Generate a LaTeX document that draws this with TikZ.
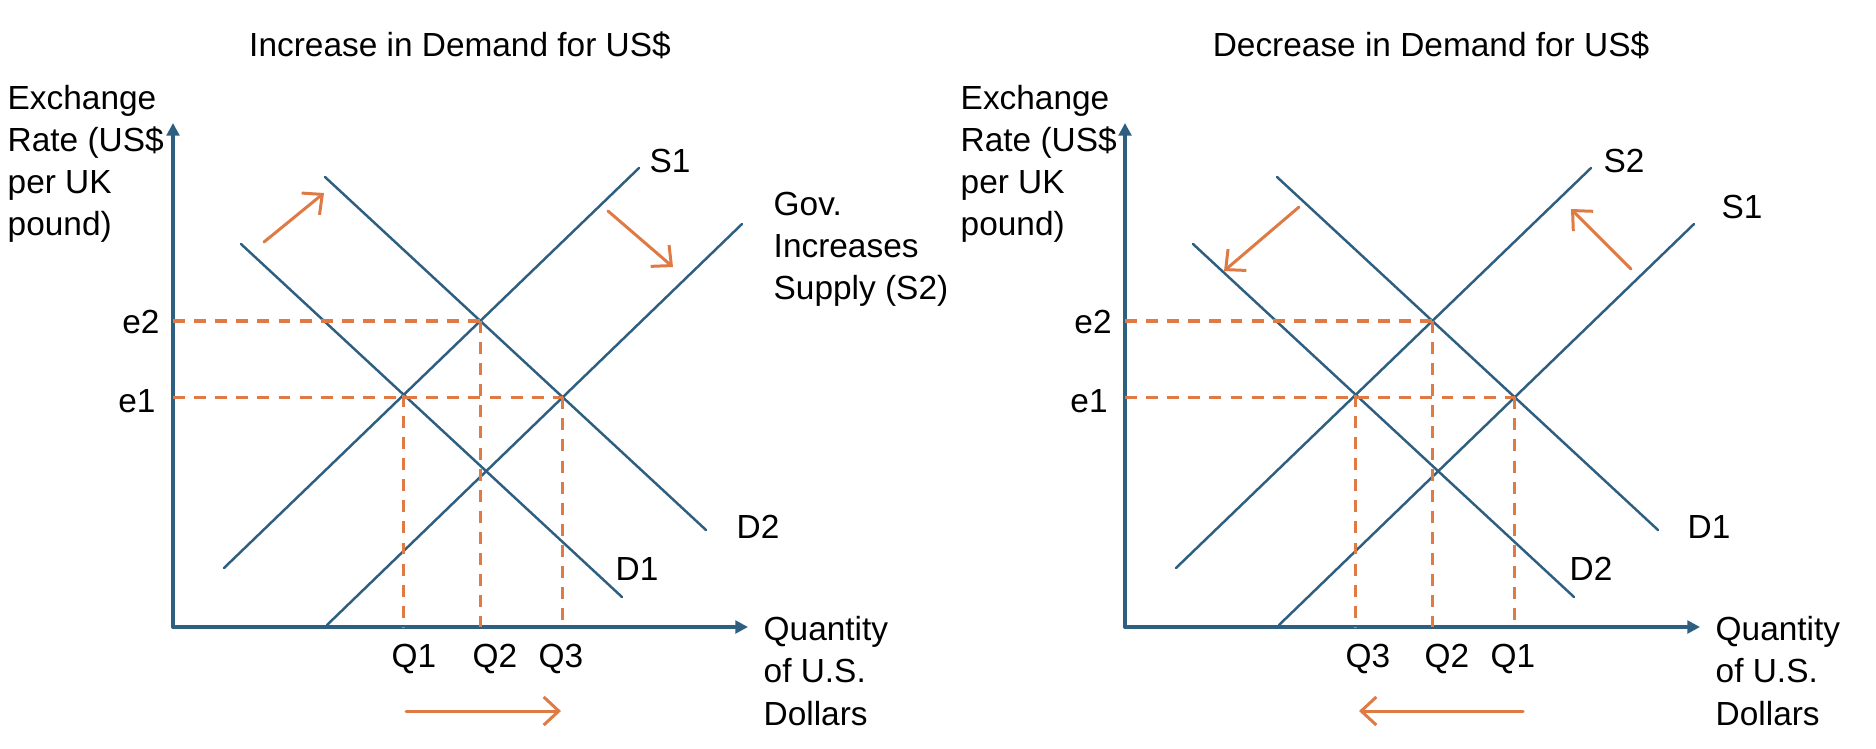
\documentclass[tikz,border=0pt]{standalone}
\usepackage{fontspec}
\setmainfont{Liberation Sans}
\usetikzlibrary{arrows.meta,positioning}

\definecolor{axisblue}{HTML}{2E5F80}
\definecolor{shiftorange}{HTML}{E07A45}

\begin{document}
\begin{tikzpicture}[
		x=0.01cm,
		y=-0.01cm,
		line cap=round,
		line join=round,
		font=\fontsize{9.5}{12}\selectfont,
		axis/.style={
			draw=axisblue,
			line width=1pt,
			-{Triangle[length=3.6pt,width=3.6pt]}
		},
		curve/.style={
			draw=axisblue,
			line width=0.7pt
		},
		guide/.style={
			draw=shiftorange,
			line width=0.8pt,
			line cap=butt,
			dash pattern=on 3.4pt off 2.6pt
		},
		shiftarrow/.style={
			draw=shiftorange,
			line width=0.85pt,
			-{Straight Barb[length=4.3pt,width=8pt]}
		},
		lbl/.style={inner sep=0pt},
		axlbl/.style={inner sep=0pt, anchor=west, align=left}
		]
		
		% background
		\useasboundingbox (0,0) rectangle (1876,748);
		\fill[white] (0,0) rectangle (1876,748);
		
		% ---------------- left panel ----------------
		\node[lbl] (titleL) at (460,45) {Increase in Demand for US\$};
		
		% axes
		\coordinate (oL)  at (173,627);
		\coordinate (ytL) at (173,123);
		\coordinate (xtL) at (748,627);
		\draw[axis] (oL) -- (ytL);
		\draw[axis] (oL) -- (xtL);
		
		% demand and supply ends
		\coordinate (d1aL) at (241,244);
		\coordinate (d1bL) at (622,597);
		\coordinate (d2aL) at (325,177);
		\coordinate (d2bL) at (706,530);
		\coordinate (s1aL) at (224,568);
		\coordinate (s1bL) at (639,168);
		\coordinate (s2aL) at (327,625);
		\coordinate (s2bL) at (742,224);
		
		\draw[curve] (d1aL) -- (d1bL);
		\draw[curve] (d2aL) -- (d2bL);
		\draw[curve] (s1aL) -- (s1bL);
		\draw[curve] (s2aL) -- (s2bL);
		
		% equilibria
		\coordinate (qaL) at (intersection of d1aL--d1bL and s1aL--s1bL);
		\coordinate (qbL) at (intersection of d2aL--d2bL and s1aL--s1bL);
		\coordinate (qcL) at (intersection of d2aL--d2bL and s2aL--s2bL);
		
		% guides
		\draw[guide, line width=0.95pt] (qbL -| oL) -- (qbL);
		\draw[guide, line width=0.95pt] (qcL -| oL) -- (qcL);
		\draw[guide] (qaL) -- (qaL |- oL);
		\draw[guide] (qbL) -- (qbL |- oL);
		\draw[guide] (qcL) -- (qcL |- oL);
		
		% shifts
		\coordinate (dsaL) at (264,242);
		\coordinate (dsbL) at (324,193);
		\coordinate (ssaL) at (608,211);
		\coordinate (ssbL) at (673,267);
		\coordinate (qsaL) at (406,711);
		\coordinate (qsbL) at (561,711);
		\draw[shiftarrow] (dsaL) -- (dsbL);
		\draw[shiftarrow] (ssaL) -- (ssbL);
		\draw[shiftarrow] (qsaL) -- (qsbL);
		
		% labels
		\node[axlbl] (yl) at (7,164) {Exchange\\Rate (US\$\\per UK\\pound)};
		\node[axlbl] (xl) at (763,671) {Quantity\\of U.S.\\Dollars};
		\node[axlbl] (gov) at (773,249) {Gov.\\Increases\\Supply (S2)};
		\node[lbl] (e2L) at (141,322) {e2};
		\node[lbl] (e1L) at (137,401) {e1};
		\node[lbl] (s1L) at (670,161) {S1};
		\node[lbl] (d2L) at (758,527) {D2};
		\node[lbl] (d1L) at (637,569) {D1};
		\node[lbl] (q1L) at (414,659) {Q1};
		\node[lbl] (q2L) at (495,659) {Q2};
		\node[lbl] (q3L) at (561,659) {Q3};
		
		% ---------------- right panel ----------------
		\node[lbl] (titleR) at (1431,45) {Decrease in Demand for US\$};
		
		% axes
		\coordinate (oR)  at (1125,627);
		\coordinate (ytR) at (1125,123);
		\coordinate (xtR) at (1700,627);
		\draw[axis] (oR) -- (ytR);
		\draw[axis] (oR) -- (xtR);
		
		% demand and supply ends
		\coordinate (d2aR) at (1193,244);
		\coordinate (d2bR) at (1574,597);
		\coordinate (d1aR) at (1277,177);
		\coordinate (d1bR) at (1658,530);
		\coordinate (s2aR) at (1176,568);
		\coordinate (s2bR) at (1591,168);
		\coordinate (s1aR) at (1279,625);
		\coordinate (s1bR) at (1694,224);
		
		\draw[curve] (d2aR) -- (d2bR);
		\draw[curve] (d1aR) -- (d1bR);
		\draw[curve] (s2aR) -- (s2bR);
		\draw[curve] (s1aR) -- (s1bR);
		
		% equilibria
		\coordinate (qaR) at (intersection of d1aR--d1bR and s1aR--s1bR);
		\coordinate (qbR) at (intersection of d2aR--d2bR and s2aR--s2bR);
		\coordinate (qcR) at (intersection of d1aR--d1bR and s2aR--s2bR);
		
		% guides
		\draw[guide, line width=0.95pt] (qcR -| oR) -- (qcR);
		\draw[guide, line width=0.95pt] (qaR -| oR) -- (qaR);
		\draw[guide] (qaR) -- (qaR |- oR);
		\draw[guide] (qbR) -- (qbR |- oR);
		\draw[guide] (qcR) -- (qcR |- oR);
		
		% shifts
		\coordinate (dsaR) at (1299,207);
		\coordinate (dsbR) at (1224,271);
		\coordinate (ssaR) at (1631,269);
		\coordinate (ssbR) at (1571,209);
		\coordinate (qsaR) at (1523,711);
		\coordinate (qsbR) at (1359,711);
		\draw[shiftarrow] (dsaR) -- (dsbR);
		\draw[shiftarrow] (ssaR) -- (ssbR);
		\draw[shiftarrow] (qsaR) -- (qsbR);
		
		% labels
		\node[axlbl] (ylR) at (960,164) {Exchange\\Rate (US\$\\per UK\\pound)};
		\node[axlbl] (xlR) at (1715,671) {Quantity\\of U.S.\\Dollars};
		\node[lbl] (e2R) at (1093,322) {e2};
		\node[lbl] (e1R) at (1089,401) {e1};
		\node[lbl] (s2R) at (1624,161) {S2};
		\node[lbl] (s1R) at (1742,207) {S1};
		\node[lbl] (d1R) at (1709,527) {D1};
		\node[lbl] (d2R) at (1591,569) {D2};
		\node[lbl] (q3R) at (1368,659) {Q3};
		\node[lbl] (q2R) at (1447,659) {Q2};
		\node[lbl] (q1R) at (1513,659) {Q1};
\end{tikzpicture}
\end{document}
